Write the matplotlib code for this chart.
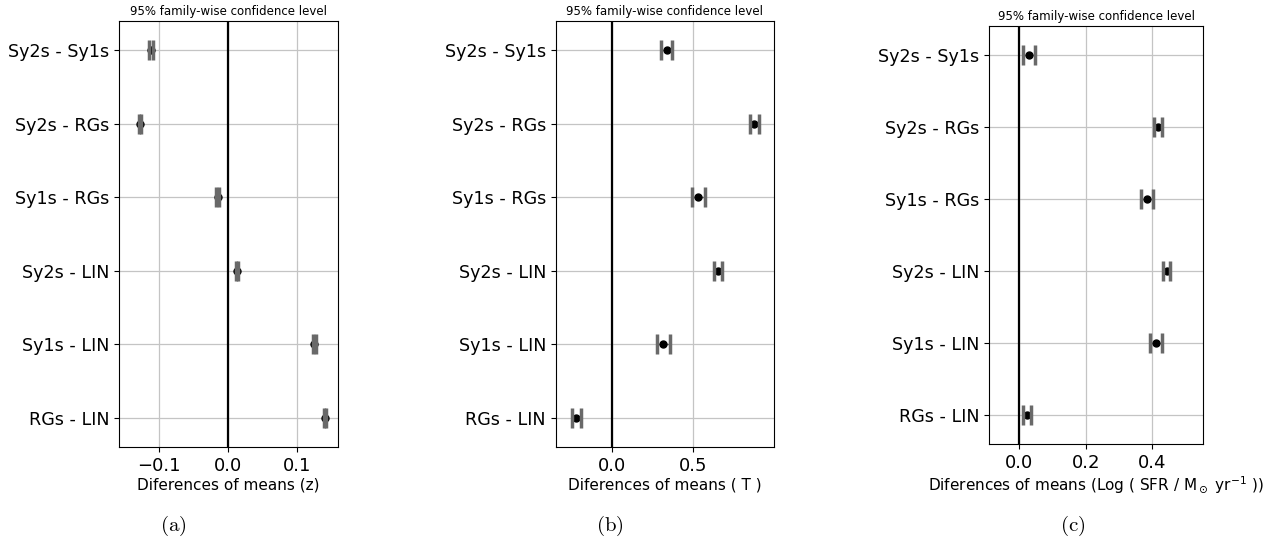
import matplotlib
matplotlib.use("Agg")
import matplotlib.pyplot as plt

# comparisons, bottom row first
comparisons = ["RGs - LIN", "Sy1s - LIN", "Sy2s - LIN",
               "Sy1s - RGs", "Sy2s - RGs", "Sy2s - Sy1s"]

# (a) redshift z
z_mean = [0.1406, 0.1247, 0.0129, -0.0149, -0.1270, -0.1112]
z_half = [0.0017, 0.0024, 0.0012, 0.0024, 0.0015, 0.0030]

# (b) morphological type T
t_mean = [-0.2176, 0.315, 0.653, 0.530, 0.872, 0.3374]
t_half = [0.0266, 0.039, 0.024, 0.040, 0.027, 0.0337]

# (c) Log SFR
sfr_mean = [0.025, 0.411, 0.4435, 0.3845, 0.417, 0.030]
sfr_half = [0.012, 0.0174, 0.0105, 0.019, 0.013, 0.0186]

xlabels = ["Diferences of means (z)",
           "Diferences of means ( T )",
           r"Diferences of means (Log ( SFR / M$_\odot$ yr$^{-1}$ ))"]
captions = ["a", "b", "c"]

fig = plt.figure(figsize=(12.86, 5.44), dpi=100)

# axes boxes (fig fraction)
boxes = [[0.0925, 0.1783, 0.1703, 0.7831],
         [0.4321, 0.1783, 0.1700, 0.7831],
         [0.7693, 0.1838, 0.1664, 0.7684]]
xlims = [(-0.158, 0.159), (-0.343, 0.995), (-0.089, 0.553)]
xticks = [[-0.1, 0.0, 0.1], [0.0, 0.5], [0.0, 0.2, 0.4]]
caption_x = [0.135, 0.474, 0.834]

data = [(z_mean, z_half), (t_mean, t_half), (sfr_mean, sfr_half)]
ypos = list(range(len(comparisons)))

for i in range(3):
    ax = fig.add_axes(boxes[i])
    means, halves = data[i]
    ax.grid(True, color="#c4c4c4", lw=0.9)
    ax.axvline(0, color="k", lw=1.6, zorder=1.8)  # above the grid
    # bar line, then dot, then caps on top
    ax.errorbar(means, ypos, xerr=halves, fmt="none", ecolor="dimgray",
                elinewidth=1, capsize=0, zorder=2)
    ax.plot(means, ypos, "o", color="k", ms=5, zorder=2.5)
    ax.errorbar(means, ypos, xerr=halves, fmt="none", ecolor="dimgray",
                elinewidth=0, capsize=7, capthick=2.5, zorder=3)
    ax.set_yticks(ypos)
    ax.set_yticklabels(comparisons, fontsize=12.6)
    ax.set_xticks(xticks[i])
    ax.tick_params(axis="x", labelsize=13)
    ax.set_xlim(xlims[i])
    ax.set_ylim(-0.4, 5.4)
    ax.set_xlabel(xlabels[i], fontsize=11, labelpad=2)
    ax.set_title("95% family-wise confidence level", fontsize=8.5, pad=4)
    fig.text(caption_x[i], 0.033, r"$(\mathrm{" + captions[i] + r"})$",
             ha="center", va="center", fontsize=15,
             math_fontfamily="cm")

fig.savefig("out.png", dpi=100)
